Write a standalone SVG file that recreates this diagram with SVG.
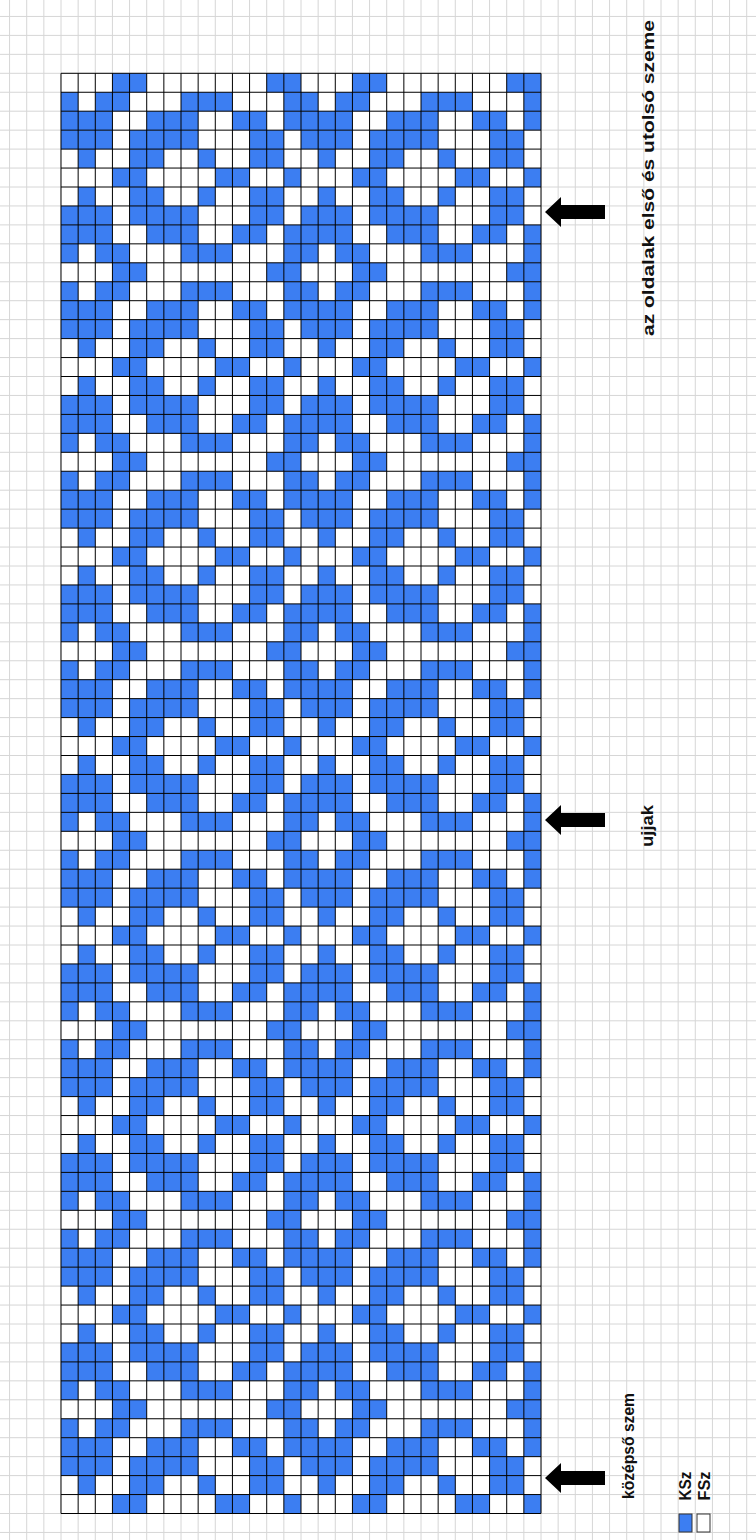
<svg xmlns="http://www.w3.org/2000/svg" width="756" height="1540" viewBox="0 0 756 1540">
<style>
.b{fill:#3c7ef2}
.bg{fill:none;stroke:#d6d6d6;stroke-width:1}
.grid{fill:none;stroke:#000;stroke-width:1}
.lbl{font-family:"Liberation Sans",Arial,sans-serif;font-weight:bold;font-size:16px;fill:#111}
.arrow{fill:#000}
</style>
<defs>
<g id="r0" class="b"><rect x="3" width="2" height="1"/><rect x="12" width="2" height="1"/><rect x="17" width="2" height="1"/><rect x="26" width="2" height="1"/></g>
<g id="r1" class="b"><rect x="0" width="1" height="1"/><rect x="2" width="2" height="1"/><rect x="7" width="3" height="1"/><rect x="13" width="2" height="1"/><rect x="16" width="2" height="1"/><rect x="21" width="3" height="1"/><rect x="27" width="1" height="1"/></g>
<g id="r2" class="b"><rect x="0" width="3" height="1"/><rect x="5" width="3" height="1"/><rect x="10" width="2" height="1"/><rect x="13" width="4" height="1"/><rect x="19" width="3" height="1"/><rect x="24" width="2" height="1"/><rect x="27" width="1" height="1"/></g>
<g id="r3" class="b"><rect x="0" width="3" height="1"/><rect x="4" width="4" height="1"/><rect x="11" width="2" height="1"/><rect x="14" width="3" height="1"/><rect x="18" width="4" height="1"/><rect x="25" width="2" height="1"/></g>
<g id="r4" class="b"><rect x="1" width="1" height="1"/><rect x="4" width="2" height="1"/><rect x="8" width="1" height="1"/><rect x="11" width="2" height="1"/><rect x="15" width="1" height="1"/><rect x="18" width="2" height="1"/><rect x="22" width="1" height="1"/><rect x="25" width="2" height="1"/></g>
<g id="r5" class="b"><rect x="3" width="2" height="1"/><rect x="9" width="2" height="1"/><rect x="13" width="1" height="1"/><rect x="17" width="2" height="1"/><rect x="23" width="2" height="1"/><rect x="27" width="1" height="1"/></g>
<path id="arr" d="M0 0L16 -15L16 -7L60 -7L60 7L16 7L16 15Z"/>
</defs>
<rect width="756" height="1540" fill="#fff"/>
<g id="sheet" transform="translate(61,73.3) scale(17.142857,18.95)">
<path class="bg" vector-effect="non-scaling-stroke" d="M-3 -4V78M-2 -4V78M-1 -4V78M0 -4V78M1 -4V78M2 -4V78M3 -4V78M4 -4V78M5 -4V78M6 -4V78M7 -4V78M8 -4V78M9 -4V78M10 -4V78M11 -4V78M12 -4V78M13 -4V78M14 -4V78M15 -4V78M16 -4V78M17 -4V78M18 -4V78M19 -4V78M20 -4V78M21 -4V78M22 -4V78M23 -4V78M24 -4V78M25 -4V78M26 -4V78M27 -4V78M28 -4V78M29 -4V78M30 -4V78M31 -4V78M32 -4V78M33 -4V78M34 -4V78M35 -4V78M36 -4V78M37 -4V78M38 -4V78M39 -4V78M40 -4V78M-4 -3H41M-4 -2H41M-4 -1H41M-4 0H41M-4 1H41M-4 2H41M-4 3H41M-4 4H41M-4 5H41M-4 6H41M-4 7H41M-4 8H41M-4 9H41M-4 10H41M-4 11H41M-4 12H41M-4 13H41M-4 14H41M-4 15H41M-4 16H41M-4 17H41M-4 18H41M-4 19H41M-4 20H41M-4 21H41M-4 22H41M-4 23H41M-4 24H41M-4 25H41M-4 26H41M-4 27H41M-4 28H41M-4 29H41M-4 30H41M-4 31H41M-4 32H41M-4 33H41M-4 34H41M-4 35H41M-4 36H41M-4 37H41M-4 38H41M-4 39H41M-4 40H41M-4 41H41M-4 42H41M-4 43H41M-4 44H41M-4 45H41M-4 46H41M-4 47H41M-4 48H41M-4 49H41M-4 50H41M-4 51H41M-4 52H41M-4 53H41M-4 54H41M-4 55H41M-4 56H41M-4 57H41M-4 58H41M-4 59H41M-4 60H41M-4 61H41M-4 62H41M-4 63H41M-4 64H41M-4 65H41M-4 66H41M-4 67H41M-4 68H41M-4 69H41M-4 70H41M-4 71H41M-4 72H41M-4 73H41M-4 74H41M-4 75H41M-4 76H41M-4 77H41"/>
</g>
<g id="chart" transform="translate(61,73.3) scale(17.142857,18.95)">
<rect width="28" height="76" fill="#fff"/>
<use href="#r0" y="0"/><use href="#r1" y="1"/><use href="#r2" y="2"/><use href="#r3" y="3"/><use href="#r4" y="4"/><use href="#r5" y="5"/><use href="#r4" y="6"/><use href="#r3" y="7"/><use href="#r2" y="8"/><use href="#r1" y="9"/>
<use href="#r0" y="10"/><use href="#r1" y="11"/><use href="#r2" y="12"/><use href="#r3" y="13"/><use href="#r4" y="14"/><use href="#r5" y="15"/><use href="#r4" y="16"/><use href="#r3" y="17"/><use href="#r2" y="18"/><use href="#r1" y="19"/>
<use href="#r0" y="20"/><use href="#r1" y="21"/><use href="#r2" y="22"/><use href="#r3" y="23"/><use href="#r4" y="24"/><use href="#r5" y="25"/><use href="#r4" y="26"/><use href="#r3" y="27"/><use href="#r2" y="28"/><use href="#r1" y="29"/>
<use href="#r0" y="30"/><use href="#r1" y="31"/><use href="#r2" y="32"/><use href="#r3" y="33"/><use href="#r4" y="34"/><use href="#r5" y="35"/><use href="#r4" y="36"/><use href="#r3" y="37"/><use href="#r2" y="38"/><use href="#r1" y="39"/>
<use href="#r0" y="40"/><use href="#r1" y="41"/><use href="#r2" y="42"/><use href="#r3" y="43"/><use href="#r4" y="44"/><use href="#r5" y="45"/><use href="#r4" y="46"/><use href="#r3" y="47"/><use href="#r2" y="48"/><use href="#r1" y="49"/>
<use href="#r0" y="50"/><use href="#r1" y="51"/><use href="#r2" y="52"/><use href="#r3" y="53"/><use href="#r4" y="54"/><use href="#r5" y="55"/><use href="#r4" y="56"/><use href="#r3" y="57"/><use href="#r2" y="58"/><use href="#r1" y="59"/>
<use href="#r0" y="60"/><use href="#r1" y="61"/><use href="#r2" y="62"/><use href="#r3" y="63"/><use href="#r4" y="64"/><use href="#r5" y="65"/><use href="#r4" y="66"/><use href="#r3" y="67"/><use href="#r2" y="68"/><use href="#r1" y="69"/>
<use href="#r0" y="70"/><use href="#r1" y="71"/><use href="#r2" y="72"/><use href="#r3" y="73"/><use href="#r4" y="74"/><use href="#r5" y="75"/>
<path class="grid" vector-effect="non-scaling-stroke" d="M0 0V76M1 0V76M2 0V76M3 0V76M4 0V76M5 0V76M6 0V76M7 0V76M8 0V76M9 0V76M10 0V76M11 0V76M12 0V76M13 0V76M14 0V76M15 0V76M16 0V76M17 0V76M18 0V76M19 0V76M20 0V76M21 0V76M22 0V76M23 0V76M24 0V76M25 0V76M26 0V76M27 0V76M28 0V76M0 0H28M0 1H28M0 2H28M0 3H28M0 4H28M0 5H28M0 6H28M0 7H28M0 8H28M0 9H28M0 10H28M0 11H28M0 12H28M0 13H28M0 14H28M0 15H28M0 16H28M0 17H28M0 18H28M0 19H28M0 20H28M0 21H28M0 22H28M0 23H28M0 24H28M0 25H28M0 26H28M0 27H28M0 28H28M0 29H28M0 30H28M0 31H28M0 32H28M0 33H28M0 34H28M0 35H28M0 36H28M0 37H28M0 38H28M0 39H28M0 40H28M0 41H28M0 42H28M0 43H28M0 44H28M0 45H28M0 46H28M0 47H28M0 48H28M0 49H28M0 50H28M0 51H28M0 52H28M0 53H28M0 54H28M0 55H28M0 56H28M0 57H28M0 58H28M0 59H28M0 60H28M0 61H28M0 62H28M0 63H28M0 64H28M0 65H28M0 66H28M0 67H28M0 68H28M0 69H28M0 70H28M0 71H28M0 72H28M0 73H28M0 74H28M0 75H28M0 76H28"/>
</g>
<g id="connectors">
<use href="#arr" class="arrow" transform="translate(545,212)"/>
<use href="#arr" class="arrow" transform="translate(545,820)"/>
<use href="#arr" class="arrow" transform="translate(545,1478)"/>
</g>
<g id="label-sides"><text class="lbl" text-anchor="middle" textLength="316" lengthAdjust="spacingAndGlyphs" transform="translate(654,178) rotate(-90)">az oldalak első és utolsó szeme</text></g>
<g id="label-ujjak"><text class="lbl" text-anchor="middle" textLength="42" lengthAdjust="spacingAndGlyphs" transform="translate(653,826) rotate(-90)">ujjak</text></g>
<g id="label-kozepso"><text class="lbl" text-anchor="middle" textLength="106" lengthAdjust="spacingAndGlyphs" transform="translate(634,1446) rotate(-90)">középső szem</text></g>
<g id="legend-ksz">
<rect x="679" y="1514" width="13" height="18" fill="#3c7ef2" stroke="#333" stroke-width="1"/>
<text class="lbl" text-anchor="middle" textLength="29" lengthAdjust="spacingAndGlyphs" transform="translate(691,1486) rotate(-90)">KSz</text>
</g>
<g id="legend-fsz">
<rect x="697" y="1514" width="13" height="18" fill="#fff" stroke="#333" stroke-width="1"/>
<text class="lbl" text-anchor="middle" textLength="29" lengthAdjust="spacingAndGlyphs" transform="translate(710,1486) rotate(-90)">FSz</text>
</g>
</svg>
